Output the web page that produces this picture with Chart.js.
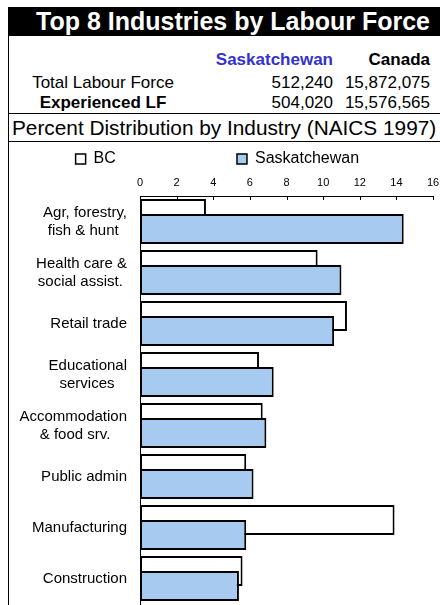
<!DOCTYPE html>
<html>
<head>
<meta charset="utf-8">
<script src="https://cdn.jsdelivr.net/npm/chart.js@4.4.1/dist/chart.umd.min.js"></script>
<style>
body{margin:0;background:#fff;font-family:"Liberation Sans",Arial,sans-serif;color:#000}
#page{position:relative;width:440px;height:605px;overflow:hidden}
#title{position:absolute;left:8px;top:7px;width:432px;height:29px;background:#000;color:#fff;
font-weight:bold;font-size:25px;line-height:29px;text-align:center;padding-left:18px;box-sizing:border-box}
.t{position:absolute;font-size:17px;line-height:20px;white-space:nowrap}
.r{text-align:right}
.b{font-weight:bold}
#leftline{position:absolute;left:8px;top:36px;width:1px;height:569px;background:#000}
.hline{position:absolute;left:8px;width:432px;height:1px;background:#000}
#pct{position:absolute;left:12px;top:115px;font-size:20.8px;line-height:25px;white-space:nowrap}
#wrap{position:absolute;left:9px;top:141px;width:431px;height:464px}
</style>
</head>
<body>
<div id="page">
<div id="title">Top 8 Industries by Labour Force</div>
<div id="leftline"></div>

<div class="t r b" style="left:200px;width:133px;top:50px;color:#3333cc">Saskatchewan</div>
<div class="t r b" style="left:340px;width:90px;top:50px">Canada</div>

<div class="t" style="left:20px;width:166px;top:73px;text-align:center">Total Labour Force</div>
<div class="t r" style="left:230px;width:103px;top:73px">512,240</div>
<div class="t r" style="left:340px;width:90px;top:73px">15,872,075</div>

<div class="t b" style="left:20px;width:166px;top:93px;text-align:center">Experienced LF</div>
<div class="t r" style="left:230px;width:103px;top:93px">504,020</div>
<div class="t r" style="left:340px;width:90px;top:93px">15,576,565</div>

<div class="hline" style="top:113px"></div>
<div id="pct">Percent Distribution by Industry (NAICS 1997)</div>
<div class="hline" style="top:141px"></div>

<div id="wrap"><canvas id="chart" width="431" height="464"></canvas></div>
</div>

<script>
const industries = [
["Agr, forestry,","fish & hunt"],
["Health care &","social assist."],
"Retail trade",
["Educational","services"],
["Accommodation","& food srv."],
"Public admin",
"Manufacturing",
"Construction"
]

const bcValues = [3.6, 9.7, 11.3, 6.5, 6.7, 5.8, 13.9, 5.6]
const skValues = [14.4, 11.0, 10.6, 7.3, 6.9, 6.2, 5.8, 5.4]

const xTicks = [0,2,4,6,8,10,12,14,16]

const labelFont = {family:"Liberation Sans",size:15,lineHeight:1.2}

/* two-line labels: lines centred on each other, block right aligned */
const measure = document.createElement("canvas").getContext("2d")
measure.font = "15px 'Liberation Sans'"
function centerLines(lab){
if(!Array.isArray(lab)) return lab
const w = lab.map(l=>measure.measureText(l).width)
const widest = Math.max(...w)
const sp = measure.measureText(" ").width
return lab.map((l,i)=>l + " ".repeat(Math.round((widest-w[i])/2/sp)))
}

/* BC bars sit behind the Saskatchewan bars */
const drawOrder = {
id:"drawOrder",
beforeDatasetDraw(chart,args){
if(args.index===0) return false
},
beforeDatasetsDraw(chart){
chart.getDatasetMeta(0).controller.draw()
}
}

/* small tick marks pointing down from the top axis */
const downTicks = {
id:"downTicks",
afterDraw(chart){
const x = chart.scales.x
const ctx = chart.ctx
ctx.save()
ctx.strokeStyle = "#000"
ctx.lineWidth = 1
xTicks.forEach(v=>{
const px = Math.round(x.getPixelForValue(v)) + 0.5
ctx.beginPath()
ctx.moveTo(px, x.bottom)
ctx.lineTo(px, x.bottom + 4)
ctx.stroke()
})
ctx.restore()
}
}

new Chart(document.getElementById("chart"),{
type:"bar",
data:{
labels:industries,
datasets:[{
label:"BC",
data:bcValues,
backgroundColor:"#ffffff",
borderColor:"#000000",
borderWidth:2,
borderSkipped:false
},{
label:"Saskatchewan",
data:skValues,
backgroundColor:"#a6caf0",
borderColor:"#000000",
borderWidth:2,
borderSkipped:false
}]
},
options:{
indexAxis:"y",
responsive:false,
animation:false,
categoryPercentage:0.59,
barPercentage:2.0,
layout:{padding:{left:6,right:7,top:0,bottom:1}},
plugins:{
tooltip:{enabled:false},
legend:{
position:"top",
labels:{
color:"#000",
font:{family:"Liberation Sans",size:16},
boxWidth:10,
boxHeight:10,
padding:10,
generateLabels(chart){
const items = Chart.defaults.plugins.legend.labels.generateLabels(chart)
items[0].text = "BC" + " ".repeat(25)
items[1].text = "Saskatchewan" + " ".repeat(3)
items.forEach(it=>{ it.lineWidth = 1.5 })
return items
}
}
}
},
scales:{
x:{
position:"top",
min:0,
max:16,
afterBuildTicks(scale){
scale.ticks = xTicks.map(v=>({value:v}))
},
afterFit(scale){
scale.height = 19
scale.paddingLeft = 0
scale.paddingRight = 0
},
grid:{display:false,drawTicks:false},
border:{display:true,color:"#000",width:1},
ticks:{color:"#000",font:{family:"Liberation Sans",size:11},padding:6,maxRotation:0}
},
y:{
afterFit(scale){
scale.width = 125
scale.paddingTop = 0
scale.paddingBottom = 0
},
grid:{display:false,drawTicks:false},
border:{display:true,color:"#000",width:1},
ticks:{
color:"#000",
font:labelFont,
padding:13,
autoSkip:false,
callback(value,index){
return centerLines(industries[index])
}
}
}
}
},
plugins:[drawOrder,downTicks]
})
</script>
</body>
</html>
